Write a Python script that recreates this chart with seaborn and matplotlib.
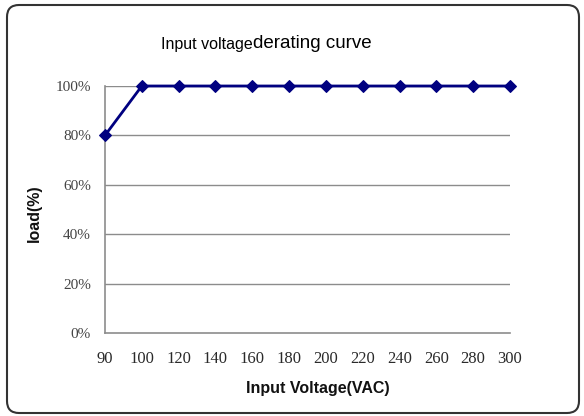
"""Input voltage derating curve"""

import matplotlib
matplotlib.use("Agg")
import matplotlib.pyplot as plt
from matplotlib.patches import FancyBboxPatch
from matplotlib.transforms import IdentityTransform
import seaborn as sns
import numpy as np
import pandas as pd

# Data
voltage = ["90", "100", "120", "140", "160", "180", "200", "220", "240", "260", "280", "300"]
load = [80, 100, 100, 100, 100, 100, 100, 100, 100, 100, 100, 100]
y_ticks = [0, 20, 40, 60, 80, 100]

df = pd.DataFrame({"voltage": voltage, "load": load})
df["pos"] = np.arange(len(df))

sns.set_style("white")
plt.rcParams["font.family"] = ["Liberation Sans", "DejaVu Sans"]

fig = plt.figure(figsize=(5.84, 4.16), dpi=100)
ax = fig.add_axes([105 / 584, 83 / 416, 405 / 584, 247 / 416])

grid_color = "#8c8c8c"

# horizontal gridlines
for v in y_ticks[1:]:
    ax.axhline(v, color=grid_color, linewidth=1.0, zorder=1)

sns.lineplot(data=df, x="pos", y="load", ax=ax, color="#000080",
             linewidth=2.0, marker="D", markersize=6.5,
             markeredgecolor="#000080", clip_on=False, zorder=3)

ax.set_xlim(0, len(df) - 1)
ax.set_ylim(0, 100)
ax.set_xticks(df["pos"], df["voltage"])
ax.set_yticks(y_ticks, [f"{v}%" for v in y_ticks])

for side in ["top", "right"]:
    ax.spines[side].set_visible(False)
for side in ["left", "bottom"]:
    ax.spines[side].set_color(grid_color)
    ax.spines[side].set_linewidth(1.2)

ax.tick_params(axis="x", direction="in", length=4, width=1, color=grid_color,
               pad=13, labelsize=12, labelcolor="#2a2a2a")
ax.tick_params(axis="y", length=0, pad=10, labelsize=11, labelcolor="#444444")
for lbl in ax.get_xticklabels() + ax.get_yticklabels():
    lbl.set_family(["Liberation Serif", "DejaVu Serif"])

ax.set_xlabel("")
ax.set_ylabel("")

# titles and axis labels
fig.text(253 / 584, 1 - 44 / 416, "Input voltage", ha="right", va="center",
         fontsize=11.5, color="#000000")
fig.text(253 / 584, 1 - 43 / 416, "derating curve", ha="left", va="center",
         fontsize=13.5, color="#000000")
fig.text(34 / 584, 1 - 213 / 416, "load(%)", rotation=90, ha="center",
         va="center", fontsize=11.5, fontweight="bold", color="#111111")
fig.text(318 / 584, 1 - 388 / 416, "Input Voltage(VAC)", ha="center",
         va="center", fontsize=11.5, fontweight="bold", color="#111111")

# rounded outer frame
frame = FancyBboxPatch((7, 3), 572, 408, boxstyle="round,pad=0,rounding_size=12",
                       transform=IdentityTransform(), fill=False,
                       edgecolor="#333333", linewidth=1.5)
fig.patches.append(frame)

fig.savefig("out.png", dpi=100)
